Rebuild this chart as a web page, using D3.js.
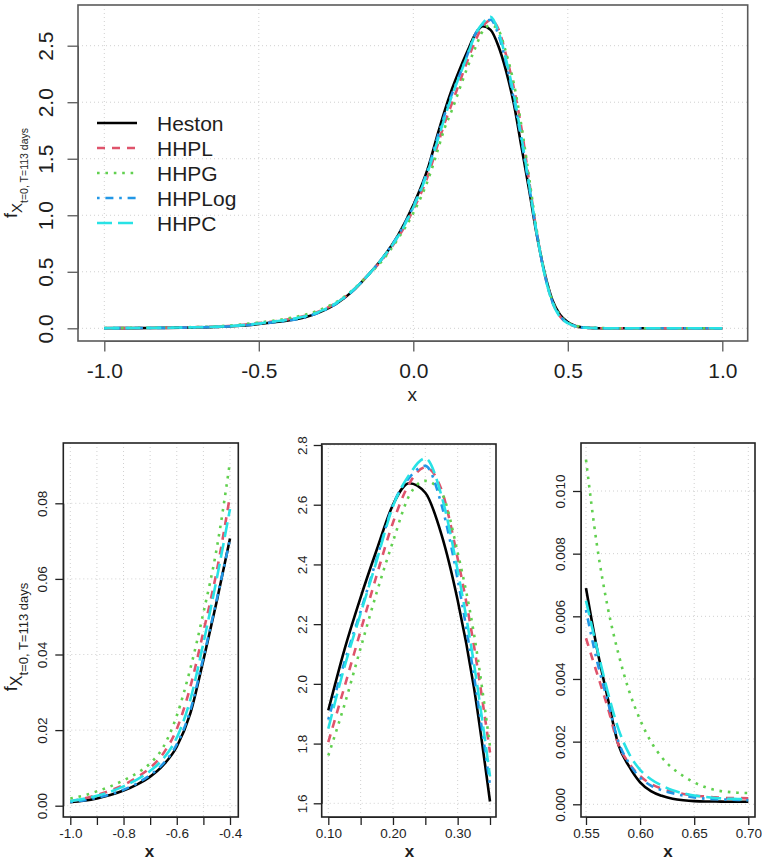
<html>
<head>
<meta charset="utf-8">
<script src="https://d3js.org/d3.v7.min.js"></script>
<style>
	body{ margin:0; background:#ffffff; }
	svg text{ font-family: "Liberation Sans", Arial, sans-serif; fill:#1e1e1e; }
	.grid line{ stroke:#d0d0d0; stroke-width:1; stroke-dasharray:1,3; }
	.box{ fill:none; stroke-width:1.6; }
	.line{ fill:none; stroke-width:2.6; }
</style>
</head>
<body>
<script>
// *** data
var xs = [
	-1.0,-0.95,-0.9,-0.85,-0.8,-0.75,-0.7,-0.65,-0.6,-0.55,-0.5,-0.45,-0.4,
	-0.35,-0.3,-0.25,-0.2,-0.15,-0.1,-0.05,0,0.05,0.075,
	0.1,0.125,0.15,0.175,0.2,0.225,0.25,0.275,0.3,0.325,0.35,
	0.375,0.4,0.425,0.45,0.475,0.5,0.525,
	0.55,0.56,0.57,0.58,0.59,0.6,0.61,0.62,0.63,0.64,0.65,0.66,0.67,0.68,0.69,0.7,
	0.8,0.9,1.0];

var heston = [
	0.0009,0.0013,0.0019,0.0028,0.0040,0.0056,0.0077,0.0108,0.0156,0.0242,0.0385,0.0540,0.0707,
	0.098,0.145,0.215,0.32,0.46,0.62,0.82,1.09,1.44,1.68,
	1.911,2.115,2.29,2.45,2.60,2.672,2.64,2.50,2.28,1.99,1.606,
	1.22,0.82,0.49,0.25,0.12,0.055,0.020,
	0.0069,0.0050,0.0034,0.0019,0.0012,0.0007,0.00042,0.00027,0.00018,0.00013,0.00010,0.00009,0.00009,0.00008,0.00008,0.00008,
	0.00005,0.00003,0.00002];

var hhpl = [
	0.0012,0.0019,0.0028,0.0040,0.0055,0.0075,0.0100,0.0139,0.0203,0.0312,0.0460,0.0620,0.0820,
	0.110,0.156,0.224,0.325,0.46,0.61,0.80,1.05,1.37,1.59,
	1.805,1.99,2.178,2.365,2.54,2.67,2.725,2.65,2.42,2.13,1.77,
	1.30,0.84,0.48,0.235,0.105,0.044,0.016,
	0.0053,0.0042,0.0031,0.0019,0.0013,0.0009,0.00065,0.0005,0.0004,0.00033,0.00028,0.00025,0.00022,0.0002,0.0002,0.00019,
	0.00012,0.00008,0.00005];

var hhpg = [
	0.0019,0.0027,0.0038,0.0051,0.0067,0.0086,0.0112,0.0156,0.0238,0.0360,0.0510,0.0680,0.0910,
	0.120,0.165,0.232,0.33,0.46,0.60,0.79,1.02,1.33,1.54,
	1.76,1.93,2.12,2.307,2.477,2.63,2.68,2.64,2.44,2.17,1.79,
	1.33,0.86,0.49,0.245,0.115,0.052,0.024,
	0.0110,0.0083,0.0063,0.0048,0.0036,0.0027,0.0020,0.0015,0.00115,0.0009,0.0007,0.00055,0.00045,0.0004,0.00037,0.00036,
	0.0002,0.00012,0.00008];

var hhplog = [
	0.0010,0.0014,0.0021,0.0030,0.0042,0.0059,0.0081,0.0112,0.0162,0.0250,0.0392,0.0545,0.0705,
	0.098,0.145,0.216,0.32,0.46,0.62,0.82,1.08,1.43,1.66,
	1.88,2.073,2.243,2.42,2.60,2.69,2.73,2.60,2.35,2.03,1.66,
	1.25,0.83,0.48,0.235,0.108,0.047,0.018,
	0.0062,0.0046,0.0033,0.0020,0.0013,0.00085,0.0006,0.00045,0.00035,0.00028,0.00022,0.00018,0.00016,0.00015,0.00014,0.00013,
	0.00008,0.00005,0.00003];

var hhpc = [
	0.0012,0.0018,0.0026,0.0037,0.0051,0.0069,0.0092,0.0125,0.0180,0.0278,0.0430,0.0600,0.0785,
	0.106,0.152,0.222,0.325,0.46,0.62,0.81,1.07,1.41,1.63,
	1.85,2.057,2.236,2.414,2.595,2.70,2.755,2.63,2.38,2.07,1.69,
	1.27,0.83,0.475,0.23,0.10,0.045,0.017,
	0.0065,0.0050,0.0036,0.0024,0.0016,0.0011,0.0008,0.0006,0.00045,0.00035,0.00028,0.00024,0.0002,0.00018,0.00017,0.00016,
	0.0001,0.00006,0.00004];

var seriesNames = ["Heston", "HHPL", "HHPG", "HHPLog", "HHPC"];
var seriesValues = [heston, hhpl, hhpg, hhplog, hhpc];

// tick values and labels for each panel
var topXTicks = [-1, -0.5, 0, 0.5, 1];
var topXLabels = ["-1.0", "-0.5", "0.0", "0.5", "1.0"];
var topYTicks = [0, 0.5, 1, 1.5, 2, 2.5];
var topYLabels = ["0.0", "0.5", "1.0", "1.5", "2.0", "2.5"];

var leftXTicks = [-1, -0.9, -0.8, -0.7, -0.6, -0.5, -0.4];
var leftXLabels = ["-1.0", "", "-0.8", "", "-0.6", "", "-0.4"];
var leftYTicks = [0, 0.02, 0.04, 0.06, 0.08];
var leftYLabels = ["0.00", "0.02", "0.04", "0.06", "0.08"];

var midXTicks = [0.1, 0.15, 0.2, 0.25, 0.3, 0.35];
var midXLabels = ["0.10", "", "0.20", "", "0.30", ""];
var midYTicks = [1.6, 1.8, 2.0, 2.2, 2.4, 2.6, 2.8];
var midYLabels = ["1.6", "1.8", "2.0", "2.2", "2.4", "2.6", "2.8"];

var rightXTicks = [0.55, 0.6, 0.65, 0.7];
var rightXLabels = ["0.55", "0.60", "0.65", "0.70"];
var rightYTicks = [0, 0.002, 0.004, 0.006, 0.008, 0.01];
var rightYLabels = ["0.000", "0.002", "0.004", "0.006", "0.008", "0.010"];

// ** styles: black, red, green, blue, cyan (R palette) and lty 1..5
var colorset = ["#000000", "#DF536B", "#61D04F", "#2297E6", "#28E2E5"];
var dashset = [null, "8,7", "2.6,5.8", "2.6,5.8,8,5.8", "15,6"];

var width = 762, height = 861;

var svg = d3.select("body").append("svg")
	.attr("width", width)
	.attr("height", height);

var data = xs.map(function(x, i){
	var d = { x: x };
	seriesNames.forEach(function(n, k){ d[n] = seriesValues[k][i]; });
	return d;
});

// *** panel layout (pixel placement of each plot)
var panels = [
	{ xlim: [-1, 1], xr: [104.3, 722.3], ylim: [0, 2.5], yr: [328.3, 45.7],
	  box: [78, 5, 747.7, 341], xt: topXTicks, xl: topXLabels, yt: topYTicks, yl: topYLabels,
	  tick: 10.5, font: 21, xBase: 37, yOff: 25, boxColor: "#5a5a5a",
	  xlab: [412.3, 401, 19, "normal"] },
	{ xlim: [-1, -0.4], xr: [70.3, 230], ylim: [0, 0.08], yr: [805.7, 503.3],
	  box: [63.3, 443, 238.3, 817], xt: leftXTicks, xl: leftXLabels, yt: leftYTicks, yl: leftYLabels,
	  tick: 8, font: 13.5, xBase: 21, yOff: 16, boxColor: "#222222",
	  xlab: [149.5, 856.5, 17, "bold"] },
	{ xlim: [0.1, 0.35], xr: [328.3, 490], ylim: [1.6, 2.8], yr: [803.3, 445],
	  box: [321.7, 444, 496, 817], xt: midXTicks, xl: midXLabels, yt: midYTicks, yl: midYLabels,
	  tick: 8, font: 13.5, xBase: 21, yOff: 15, boxColor: "#222222",
	  xlab: [409.5, 856.5, 17, "bold"] },
	{ xlim: [0.55, 0.7], xr: [586, 748.3], ylim: [0, 0.01], yr: [804.3, 491],
	  box: [581, 443, 755, 817], xt: rightXTicks, xl: rightXLabels, yt: rightYTicks, yl: rightYLabels,
	  tick: 8, font: 13.5, xBase: 21, yOff: 16, boxColor: "#222222",
	  xlab: [668, 856.5, 17, "bold"] }
];

panels.forEach(function(p, pi){
	var xScale = d3.scaleLinear().domain(p.xlim).range(p.xr);
	var yScale = d3.scaleLinear().domain(p.ylim).range(p.yr);
	var b = p.box;
	var g = svg.append("g");

	// grid
	var grid = g.append("g").attr("class", "grid");
	grid.selectAll(".gv").data(p.xt).enter().append("line")
		.attr("x1", function(d){ return xScale(d); })
		.attr("x2", function(d){ return xScale(d); })
		.attr("y1", b[1]).attr("y2", b[3]);
	grid.selectAll(".gh").data(p.yt).enter().append("line")
		.attr("y1", function(d){ return yScale(d); })
		.attr("y2", function(d){ return yScale(d); })
		.attr("x1", b[0]).attr("x2", b[2]);

	// lines
	g.append("clipPath").attr("id", "clip" + pi)
		.append("rect").attr("x", b[0]).attr("y", b[1])
		.attr("width", b[2] - b[0]).attr("height", b[3] - b[1]);

	var sub = data.filter(function(d){ return d.x >= p.xlim[0] - 1e-9 && d.x <= p.xlim[1] + 1e-9; });

	seriesNames.forEach(function(n, k){
		var line = d3.line()
			.x(function(d){ return xScale(d.x); })
			.y(function(d){ return yScale(d[n]); })
			.curve(d3.curveMonotoneX);
		g.append("path")
			.attr("class", "line")
			.attr("clip-path", "url(#clip" + pi + ")")
			.attr("stroke", colorset[k])
			.attr("stroke-dasharray", dashset[k])
			.attr("d", line(sub));
	});

	// box
	g.append("rect").attr("class", "box")
		.attr("x", b[0]).attr("y", b[1])
		.attr("width", b[2] - b[0]).attr("height", b[3] - b[1])
		.attr("stroke", p.boxColor);

	// x axis
	var xAxis = d3.axisBottom(xScale)
		.tickValues(p.xt)
		.tickFormat(function(d, i){ return p.xl[i]; })
		.tickSize(p.tick)
		.tickSizeOuter(0);
	var xg = g.append("g")
		.attr("transform", "translate(0," + b[3] + ")")
		.call(xAxis);
	xg.select(".domain").attr("stroke", p.boxColor);
	xg.selectAll(".tick line").attr("stroke", p.boxColor).attr("stroke-width", 1.3);
	xg.selectAll("text")
		.attr("y", p.xBase).attr("dy", null)
		.style("font-size", p.font + "px")
		.attr("fill", "#1e1e1e");

	// y axis, labels rotated parallel to the axis
	var yAxis = d3.axisLeft(yScale)
		.tickValues(p.yt)
		.tickFormat(function(d, i){ return p.yl[i]; })
		.tickSize(p.tick)
		.tickSizeOuter(0);
	var yg = g.append("g")
		.attr("transform", "translate(" + b[0] + ",0)")
		.call(yAxis);
	yg.select(".domain").attr("stroke", p.boxColor);
	yg.selectAll(".tick line").attr("stroke", p.boxColor).attr("stroke-width", 1.3);
	yg.selectAll("text")
		.attr("x", null).attr("dy", null)
		.attr("text-anchor", "middle")
		.attr("transform", "translate(" + (-p.yOff) + ",0) rotate(-90)")
		.style("font-size", p.font + "px")
		.attr("fill", "#1e1e1e");

	// x axis title
	svg.append("text")
		.attr("x", p.xlab[0]).attr("y", p.xlab[1])
		.attr("text-anchor", "middle")
		.style("font-size", p.xlab[2] + "px")
		.style("font-weight", p.xlab[3])
		.text("x");
});

// *** y axis titles  f_{X_{t=0, T=113 days}}
function yTitle(cx, cy, s1, s2, s3){
	var t = svg.append("text")
		.attr("transform", "translate(" + cx + "," + cy + ") rotate(-90)")
		.attr("text-anchor", "middle");
	t.append("tspan").style("font-size", s1 + "px").text("f");
	t.append("tspan").style("font-size", s2 + "px").attr("dy", 5).text("X");
	t.append("tspan").style("font-size", s3 + "px").attr("dy", 6).text("t=0, T=113 days");
}
yTitle(17, 173, 18, 15, 10.5);
yTitle(17, 637, 18, 16, 13);

// *** legend
var legend = svg.append("g");
seriesNames.forEach(function(n, k){
	var ly = 123 + k * 25;
	legend.append("line")
		.attr("x1", 97).attr("x2", 137)
		.attr("y1", ly).attr("y2", ly)
		.attr("stroke", colorset[k])
		.attr("stroke-width", 2.6)
		.attr("stroke-dasharray", dashset[k]);
	legend.append("text")
		.attr("x", 157).attr("y", ly + 7.5)
		.style("font-size", "21px")
		.text(n);
});
</script>
</body>
</html>
